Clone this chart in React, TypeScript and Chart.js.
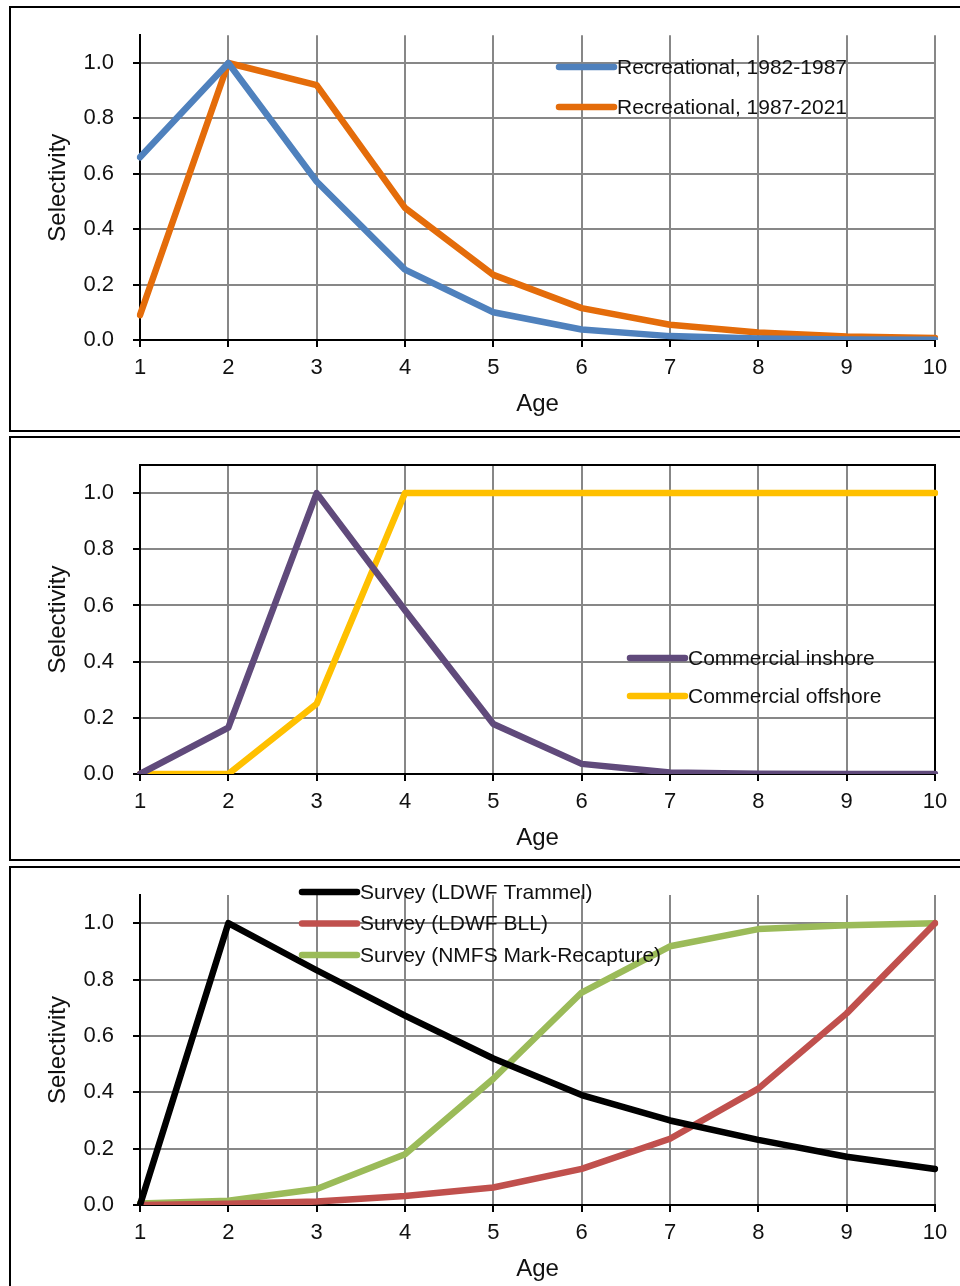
import React, { useEffect, useRef } from 'react';
import { Chart, registerables } from 'chart.js';

Chart.register(...registerables);

// ---------------- data ----------------
const AGES = ['1', '2', '3', '4', '5', '6', '7', '8', '9', '10'];
const Y_TICK_VALUES = [0, 0.2, 0.4, 0.6, 0.8, 1.0];

const REC_1982_1987 = [0.66, 1.0, 0.572, 0.254, 0.1, 0.038, 0.014, 0.005, 0.002, 0.001];
const REC_1987_2021 = [0.09, 1.0, 0.92, 0.477, 0.235, 0.115, 0.055, 0.027, 0.013, 0.007];

const COMM_INSHORE = [0, 0.165, 1.0, 0.583, 0.178, 0.036, 0.005, 0.001, 0, 0];
const COMM_OFFSHORE = [0, 0, 0.25, 1.0, 1.0, 1.0, 1.0, 1.0, 1.0, 1.0];

const SURVEY_TRAMMEL = [0, 1.0, 0.833, 0.672, 0.52, 0.39, 0.3, 0.231, 0.171, 0.128];
const SURVEY_BLL = [0, 0.004, 0.012, 0.032, 0.062, 0.128, 0.235, 0.413, 0.68, 1.0];
const SURVEY_NMFS = [0.005, 0.015, 0.057, 0.18, 0.448, 0.754, 0.918, 0.979, 0.993, 1.0];

const LABELS_1 = ['Recreational, 1982-1987', 'Recreational, 1987-2021'];
const LABELS_2 = ['Commercial inshore', 'Commercial offshore'];
const LABELS_3 = ['Survey (LDWF Trammel)', 'Survey (LDWF BLL)', 'Survey (NMFS Mark-Recapture)'];

// ---------------- styles ----------------
const FONT = '"Liberation Sans", Arial, Helvetica, sans-serif';
const GRID = '#878787';
const PAGE_W = 960;
const PLOT_LEFT = 140;
const PLOT_RIGHT = 935;
const Y_AXIS_W = 100;
const X_AXIS_H = 80;
const TOP_PAD = 33; // >= y-axis label half height + tick padding

type Series = { label: string; data: number[]; color: string };
type PanelSpec = {
  borderTop: number;
  borderHeight: number;
  canvasBottom: number;
  plotTop: number;
  plotBottom: number;
  series: Series[];
  legend: { x: number; y: number; gap: number };
  box: boolean;
};

const PANELS: PanelSpec[] = [
  {
    borderTop: 6,
    borderHeight: 426,
    canvasBottom: 430,
    plotTop: 35.3,
    plotBottom: 340,
    series: [
      { label: LABELS_1[0], data: REC_1982_1987, color: '#4F81BD' },
      { label: LABELS_1[1], data: REC_1987_2021, color: '#E46C0A' },
    ],
    legend: { x: 559, y: 67, gap: 40 },
    box: false,
  },
  {
    borderTop: 436,
    borderHeight: 425,
    canvasBottom: 859,
    plotTop: 465,
    plotBottom: 774,
    series: [
      { label: LABELS_2[0], data: COMM_INSHORE, color: '#604A7B' },
      { label: LABELS_2[1], data: COMM_OFFSHORE, color: '#FFC000' },
    ],
    legend: { x: 630, y: 658, gap: 38 },
    box: true,
  },
  {
    borderTop: 866,
    borderHeight: 430,
    canvasBottom: 1286,
    plotTop: 895,
    plotBottom: 1205,
    series: [
      { label: LABELS_3[0], data: SURVEY_TRAMMEL, color: '#000000' },
      { label: LABELS_3[1], data: SURVEY_BLL, color: '#C0504D' },
      { label: LABELS_3[2], data: SURVEY_NMFS, color: '#9BBB59' },
    ],
    legend: { x: 302, y: 892, gap: 31.5 },
    box: false,
  },
];

function Panel({ spec }: { spec: PanelSpec }) {
  const ref = useRef<HTMLCanvasElement | null>(null);
  const canvasTop = Math.floor(spec.plotTop - TOP_PAD);
  const canvasHeight = spec.canvasBottom - canvasTop;

  useEffect(() => {
    const canvas = ref.current;
    if (!canvas) return;

    const legendPlugin = {
      id: 'panelLegend',
      afterDraw(chart: any) {
        const ctx = chart.ctx as CanvasRenderingContext2D;
        ctx.save();
        const len = 55;
        chart.data.datasets.forEach((ds: any, i: number) => {
          const y = spec.legend.y - canvasTop + i * spec.legend.gap;
          const x = spec.legend.x;
          ctx.strokeStyle = ds.borderColor;
          ctx.lineWidth = 6.5;
          ctx.lineCap = 'round';
          ctx.beginPath();
          ctx.moveTo(x, y);
          ctx.lineTo(x + len, y);
          ctx.stroke();
          ctx.fillStyle = '#111';
          ctx.font = `21px ${FONT}`;
          ctx.textBaseline = 'middle';
          ctx.textAlign = 'left';
          ctx.fillText(ds.label, x + len + 3, y + 1);
        });
        ctx.restore();
      },
    };

    const boxPlugin = {
      id: 'plotBox',
      beforeDatasetsDraw(chart: any) {
        if (!spec.box) return;
        const { left, top, right, bottom } = chart.chartArea;
        const ctx = chart.ctx as CanvasRenderingContext2D;
        ctx.save();
        ctx.strokeStyle = '#000';
        ctx.lineWidth = 2;
        ctx.beginPath();
        ctx.moveTo(left, top);
        ctx.lineTo(right, top);
        ctx.lineTo(right, bottom);
        ctx.stroke();
        ctx.restore();
      },
    };

    const padTop = spec.plotTop - canvasTop;
    const padBottom = spec.canvasBottom - (spec.plotBottom + X_AXIS_H);

    const chart = new Chart(canvas, {
      type: 'line',
      data: {
        labels: AGES,
        datasets: spec.series.map((s) => ({
          label: s.label,
          data: s.data,
          borderColor: s.color,
          backgroundColor: s.color,
          borderWidth: 6.5,
          pointRadius: 0,
          pointHoverRadius: 0,
          tension: 0,
          fill: false,
          borderJoinStyle: 'round' as const,
          borderCapStyle: 'round' as const,
        })),
      },
      options: {
        responsive: false,
        animation: false,
        maintainAspectRatio: false,
        events: [],
        layout: {
          autoPadding: false,
          padding: {
            left: PLOT_LEFT - Y_AXIS_W,
            right: PAGE_W - PLOT_RIGHT,
            top: padTop,
            bottom: padBottom,
          },
        },
        plugins: {
          legend: { display: false },
          title: { display: false },
          tooltip: { enabled: false },
        },
        scales: {
          x: {
            type: 'category',
            offset: false,
            grid: {
              color: GRID,
              lineWidth: 2,
              tickColor: '#000',
              tickLength: 7,
              tickWidth: 2,
              drawTicks: true,
            },
            border: { color: '#000', width: 2 },
            ticks: {
              color: '#111',
              font: { family: FONT, size: 22 },
              padding: 8,
              maxRotation: 0,
              autoSkip: false,
            },
            title: {
              display: true,
              text: 'Age',
              color: '#111',
              font: { family: FONT, size: 24 },
              padding: { top: 0, bottom: 1 },
            },
            afterFit: (s: any) => {
              s.height = X_AXIS_H;
            },
          },
          y: {
            type: 'linear',
            min: 0,
            max: 1.1,
            afterBuildTicks: (s: any) => {
              s.ticks = Y_TICK_VALUES.map((v) => ({ value: v }));
            },
            grid: {
              color: GRID,
              lineWidth: 2,
              tickColor: '#000',
              tickLength: 7,
              tickWidth: 2,
              drawTicks: true,
            },
            border: { color: '#000', width: 2 },
            ticks: {
              color: '#111',
              font: { family: FONT, size: 22 },
              padding: 19,
              callback: (v: any) => Number(v).toFixed(1),
            },
            title: {
              display: true,
              text: 'Selectivity',
              color: '#111',
              font: { family: FONT, size: 24 },
              padding: { top: 3.6, bottom: 0 },
            },
            afterFit: (s: any) => {
              s.width = Y_AXIS_W;
            },
          },
        },
      } as any,
      plugins: [boxPlugin, legendPlugin],
    });

    return () => {
      chart.destroy();
    };
  }, [spec, canvasTop]);

  return (
    <>
      <div
        style={{
          position: 'absolute',
          left: 9,
          top: spec.borderTop,
          width: 980,
          height: spec.borderHeight,
          border: '2px solid #000',
          boxSizing: 'border-box',
        }}
      />
      <canvas
        ref={ref}
        width={PAGE_W}
        height={canvasHeight}
        style={{
          position: 'absolute',
          left: 0,
          top: canvasTop,
          width: PAGE_W,
          height: canvasHeight,
          display: 'block',
        }}
      />
    </>
  );
}

export default function App() {
  return (
    <div
      style={{
        position: 'absolute',
        left: 0,
        top: 0,
        width: 960,
        height: 1286,
        overflow: 'hidden',
        background: '#fff',
      }}
    >
      {PANELS.map((p, i) => (
        <Panel key={i} spec={p} />
      ))}
    </div>
  );
}
